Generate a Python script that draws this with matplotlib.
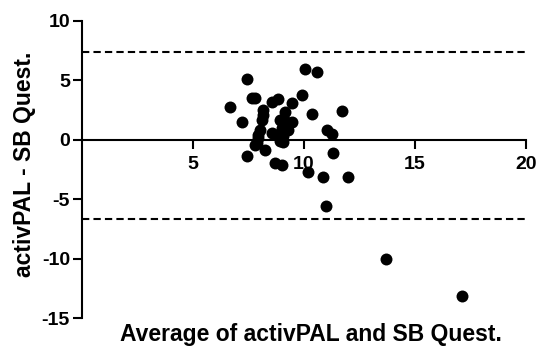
import matplotlib
matplotlib.use('Agg')
import matplotlib.pyplot as plt

plt.rcParams['font.family'] = ['Liberation Sans', 'DejaVu Sans']
plt.rcParams['font.weight'] = 'bold'
plt.rcParams['axes.unicode_minus'] = False

# ── data ───────────────────────────────────────────────────────────────────
avg = [10.06, 10.59, 7.43, 7.66, 7.81, 6.68, 8.56, 8.86, 9.91, 9.46,
       8.18, 11.71, 10.36, 9.16, 8.11, 7.21, 8.93, 9.46, 9.31, 11.04,
       11.26, 8.03, 8.56, 7.95, 7.81, 9.08, 8.26, 7.43, 11.33, 8.71,
       9.01, 10.21, 10.86, 12.01, 11.00, 13.71, 17.14, 8.18, 7.95, 7.88,
       9.16, 9.01, 8.78, 9.08, 8.93]
diff = [5.94, 5.74, 5.12, 3.50, 3.50, 2.79, 3.21, 3.41, 3.78, 3.08,
        2.51, 2.43, 2.15, 2.32, 1.67, 1.48, 1.67, 1.53, 0.83, 0.83,
        0.50, 0.83, 0.56, 0.13, -0.43, -0.15, -0.85, -1.35, -1.08, -1.92,
        -2.11, -2.67, -3.10, -3.10, -5.56, -10.02, -13.13, 2.09, 0.41, -0.29,
        1.59, 1.00, 0.41, 0.33, -0.10]

upper_loa = 7.4
lower_loa = -6.67

xticks = [5, 10, 15, 20]
yticks = [-15, -10, -5, 0, 5, 10]

# ── plot ───────────────────────────────────────────────────────────────────
fig = plt.figure(figsize=(5.39, 3.47), dpi=100)
ax = fig.add_axes([0.1516, 0.0827, 0.8237, 0.8568])

ax.plot(avg, diff, 'o', color='black', markersize=8.6, markeredgewidth=0,
        linestyle='none', zorder=3)
for loa in (upper_loa, lower_loa):
    ax.axhline(loa, color='black', lw=1.5, dashes=(3.5, 2), zorder=2)

ax.set_xlim(0, 20)
ax.set_ylim(-15, 10)
ax.set_xticks(xticks)
ax.set_yticks(yticks)

ax.spines['top'].set_visible(False)
ax.spines['right'].set_visible(False)
ax.spines['bottom'].set_position(('data', 0))
ax.spines['left'].set_linewidth(1.5)
ax.spines['bottom'].set_linewidth(1.5)

ax.tick_params(axis='both', direction='out', length=6.5, width=1.5,
               labelsize=14)
ax.tick_params(axis='x', pad=5)
ax.tick_params(axis='y', pad=2)

ax.set_xlabel('Average of activPAL and SB Quest.', fontsize=16.5,
              fontweight='bold', va='center')
ax.xaxis.set_label_coords(0.516, -0.0545)
ax.set_ylabel('activPAL - SB Quest.', fontsize=16.5, fontweight='bold',
              va='center')
ax.yaxis.set_label_coords(-0.128, 0.519)

fig.savefig('out.png', dpi=100)
